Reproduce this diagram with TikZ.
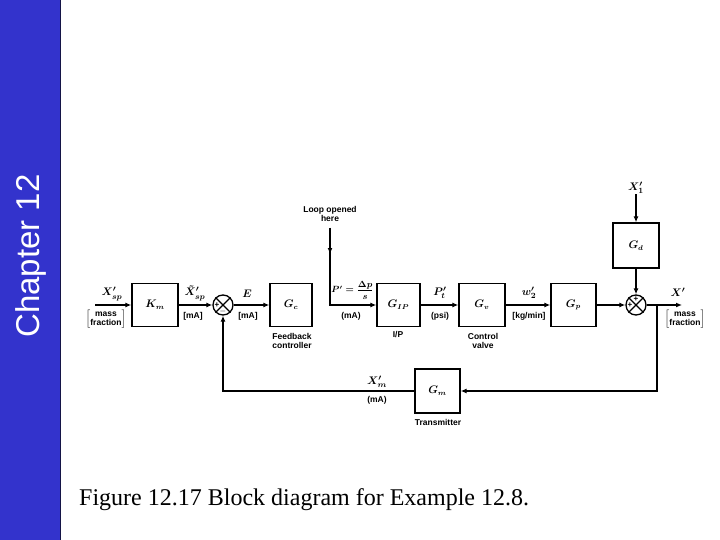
\documentclass[tikz,border=0pt]{standalone}
\usepackage{fontspec}
\setmainfont{Liberation Serif}
\newfontfamily\arialf{Liberation Sans}
\usetikzlibrary{arrows.meta}
\definecolor{barblue}{RGB}{51,51,204}
\definecolor{barnavy}{RGB}{20,20,70}
\begin{document}
\begin{tikzpicture}[x=1pt,y=-1pt,
  blk/.style={draw,line width=1.3pt,minimum width=45pt,minimum height=43pt,inner sep=0pt,font=\boldmath\fontsize{10.5}{11}\selectfont},
  sumj/.style={draw,circle,line width=1.3pt,minimum size=20pt,inner sep=0pt},
  sig/.style={line width=1.6pt,-{Latex[length=6pt,width=5pt]}},
  lbl/.style={font=\arialf\bfseries\fontsize{8.5}{9.5}\selectfont,inner sep=0pt,align=center},
  mth/.style={font=\boldmath\fontsize{11}{12}\selectfont,inner sep=0pt},
  sgn/.style={font=\arialf\bfseries\fontsize{8}{8}\selectfont,inner sep=0pt}
]
\useasboundingbox (0,0) rectangle (720,540);
% side bar
\fill[barblue] (0,0) rectangle (60,540);
\draw[barnavy,line width=1pt] (60.5,0) -- (60.5,540);
\node[rotate=90,text=white,font=\arialf\fontsize{33}{33}\selectfont,inner sep=0pt] (chap) at (31,256) {Chapter 12};
% caption
\node[anchor=base west,font=\fontsize{24}{24}\selectfont,inner sep=0pt] (cap) at (79,505) {Figure 12.17 Block diagram for Example 12.8.};

% blocks
\node[blk,minimum width=46pt] (Km) at (155,305) {$K_m$};
\node[blk,minimum width=42pt] (Gc) at (291,305) {$G_c$};
\node[blk,minimum width=43pt] (Gip) at (398.5,305) {$G_{IP}$};
\node[blk,minimum width=46pt] (Gv) at (482,305) {$G_v$};
\node[blk,minimum width=45pt] (Gp) at (573.5,305) {$G_p$};
\node[blk,minimum width=46pt,minimum height=45pt] (Gd) at (636,245.5) {$G_d$};
\node[blk,minimum width=45pt,minimum height=44pt] (Gm) at (437.5,391) {$G_m$};

% summing junctions
\node[sumj] (J1) at (223,305) {};
\draw[line width=1.1pt] (J1.north east) -- (J1.south west) (J1.north west) -- (J1.south east);
\node[sgn] (J1p) at (217,305) {+};
\node[sgn] (J1m) at (223,311) {$-$};
\node[sumj] (J2) at (636,305) {};
\draw[line width=1.1pt] (J2.north east) -- (J2.south west) (J2.north west) -- (J2.south east);
\node[sgn] (J2t) at (636,299) {+};
\node[sgn] (J2l) at (630,305) {+};

% coordinates
\coordinate (in) at (95,305);
\coordinate (looptop) at (330,228);
\coordinate (out) at (682,305);
\coordinate (tap) at (657,305);

% connectors
\draw[sig] (in) -- (Km.west);
\draw[sig] (Km.east) -- (J1.west);
\draw[sig] (J1.east) -- (Gc.west);
\draw[sig] (looptop) -- ++(0,26);
\draw[sig] (looptop) |- (Gip.west);
\draw[sig] (Gip.east) -- (Gv.west);
\draw[sig] (Gv.east) -- (Gp.west);
\draw[sig] (Gp.east) -- (J2.west);
\node[mth] (X1) at (636,188) {$X'_1$};
\draw[sig] (X1.south) -- (Gd.north);
\draw[sig] (Gd.south) -- (J2.north);
\draw[sig] (J2.east) -- (out);
\draw[sig] (tap) |- (Gm.east);
\draw[sig] (Gm.west) -| (J1.south);

% signal labels
\node[mth] (lXsp) at (112,294) {$X'_{sp}$};
\node[lbl] (lmf1) at (106,319) {$\left[\begin{tabular}{@{}c@{}}mass\\fraction\end{tabular}\right]$};
\node[mth] (lXt) at (195,293) {$\tilde{X}'_{sp}$};
\node[lbl] (lmA1) at (193,316) {[mA]};
\node[mth] (lE) at (247,294) {$E$};
\node[lbl] (lmA2) at (248,316) {[mA]};
\node[lbl] (lloop) at (330,214) {Loop opened\\here};
\node[mth,font=\boldmath\fontsize{9}{10}\selectfont] (lP) at (352.5,290) {$P'={\displaystyle\frac{\Delta p}{s}}$};
\node[lbl] (lmA3) at (351,316) {(mA)};
\node[mth] (lPt) at (440,293) {$P'_t$};
\node[lbl] (lpsi) at (440,316) {(psi)};
\node[mth] (lw2) at (529,293) {$w'_2$};
\node[lbl] (lkg) at (529,316) {[kg/min]};
\node[mth] (lX) at (678,292) {$X'$};
\node[lbl] (lmf2) at (685,319) {$\left[\begin{tabular}{@{}c@{}}mass\\fraction\end{tabular}\right]$};
\node[mth] (lXm) at (377,382) {$X'_m$};
\node[lbl] (lmA4) at (377,400) {(mA)};

% block captions
\node[lbl] (cGc) at (292,341) {Feedback\\controller};
\node[lbl] (cGip) at (398,335) {I/P};
\node[lbl] (cGv) at (483,341) {Control\\valve};
\node[lbl] (cGm) at (438,422) {Transmitter};
\end{tikzpicture}
\end{document}
